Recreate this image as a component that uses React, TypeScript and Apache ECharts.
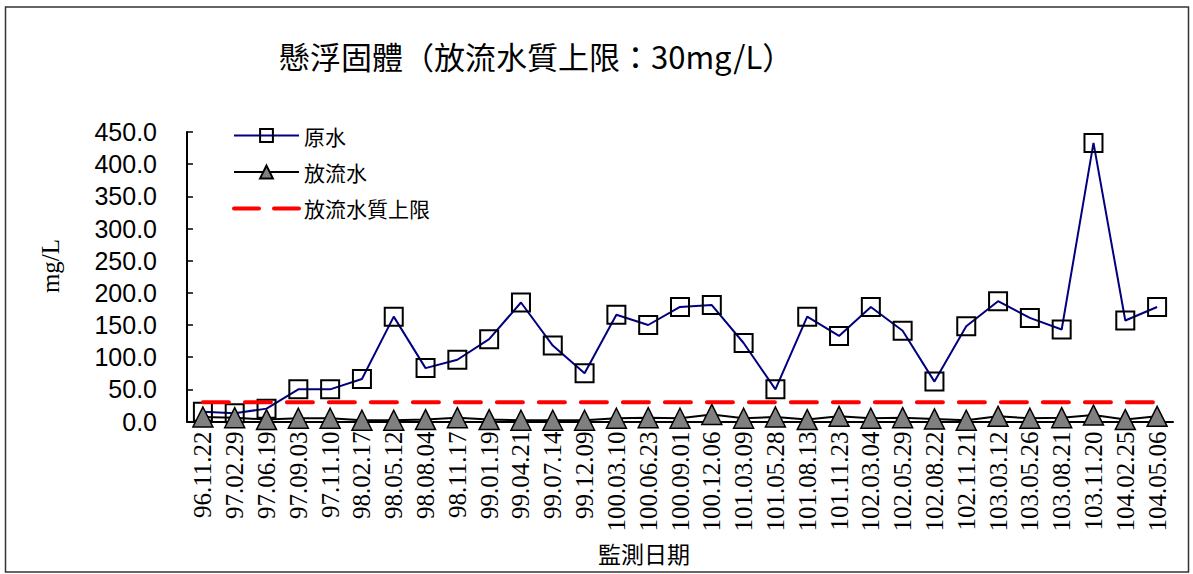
import React, { useEffect, useRef } from "react";
import * as echarts from "echarts";

const categories = [
  "96.11.22", "97.02.29", "97.06.19", "97.09.03", "97.11.10", "98.02.17", "98.05.12", "98.08.04",
  "98.11.17", "99.01.19", "99.04.21", "99.07.14", "99.12.09", "100.03.10", "100.06.23", "100.09.01",
  "100.12.06", "101.03.09", "101.05.28", "101.08.13", "101.11.23", "102.03.04", "102.05.29", "102.08.22",
  "102.11.21", "103.03.12", "103.05.26", "103.08.21", "103.11.20", "104.02.25", "104.05.06",
];

const rawWater = [
  15, 13, 20, 50, 50, 66, 163, 83, 96, 128, 185, 118, 75, 166, 150, 178,
  181, 122, 50, 163, 133, 178, 141, 62, 148, 187, 161, 143, 433, 157, 178,
];

const effluent = [
  7, 6, 3, 5, 5, 2, 2, 3, 6, 3, 2, 2, 2, 5, 6, 5,
  11, 5, 7, 3, 8, 5, 6, 4, 2, 8, 5, 6, 10, 3, 8,
];

const limitLine = [
  30, 30, 30, 30, 30, 30, 30, 30, 30, 30, 30, 30, 30, 30, 30, 30,
  30, 30, 30, 30, 30, 30, 30, 30, 30, 30, 30, 30, 30, 30, 30,
];

const seriesNames = ["原水", "放流水", "放流水質上限"];
const titleText = "懸浮固體（放流水質上限：30mg/L）";
const yAxisTitle = "mg/L";
const xAxisTitle = "監測日期";

const CJK = '"Noto Sans CJK TC", "Noto Sans CJK SC", sans-serif';

export default function App() {
  const ref = useRef<HTMLDivElement>(null);

  useEffect(() => {
    if (!ref.current) return;
    const chart = echarts.init(ref.current, undefined, { renderer: "svg" });
    chart.setOption({
      animation: false,
      backgroundColor: "#ffffff",
      title: {
        text: titleText,
        left: 279,
        top: 40,
        padding: 0,
        textStyle: { fontFamily: CJK, fontSize: 31, fontWeight: "normal", color: "#000" },
      },
      legend: {
        orient: "vertical",
        left: 232,
        top: 125,
        padding: 0,
        itemWidth: 65,
        itemHeight: 16,
        itemGap: 15.5,
        textStyle: { fontFamily: CJK, fontSize: 21, color: "#000" },
        data: [
          { name: seriesNames[0] },
          { name: seriesNames[1] },
          {
            name: seriesNames[2],
            itemStyle: { color: "rgba(0,0,0,0)", borderWidth: 0, opacity: 0 },
            lineStyle: { type: [25, 15], width: 4, color: "#ff0000" },
          },
        ],
      },
      grid: { left: 187, right: 20, top: 132, bottom: 152.5, containLabel: false },
      xAxis: {
        type: "category",
        data: categories,
        boundaryGap: true,
        axisLine: { lineStyle: { color: "#000", width: 2 } },
        axisTick: { inside: true, length: 6, lineStyle: { color: "#000", width: 1 } },
        axisLabel: {
          rotate: 90,
          interval: 0,
          margin: 10,
          fontFamily: '"Liberation Serif", serif',
          fontSize: 25,
          color: "#000",
        },
        splitLine: { show: false },
      },
      yAxis: {
        type: "value",
        min: 0,
        max: 450,
        interval: 50,
        axisLine: { show: true, lineStyle: { color: "#000", width: 2 } },
        axisTick: { show: true, inside: true, length: 6, lineStyle: { color: "#000", width: 1.5 } },
        axisLabel: {
          formatter: (v: number) => v.toFixed(1),
          margin: 30,
          fontFamily: '"Liberation Sans", Arial, sans-serif',
          fontSize: 25,
          color: "#000",
        },
        splitLine: { show: false },
      },
      series: [
        {
          name: seriesNames[0],
          type: "line",
          data: rawWater,
          symbol: "rect",
          symbolSize: 18,
          lineStyle: { color: "#000080", width: 2 },
          itemStyle: { color: "rgba(255,255,255,0)", borderColor: "#000", borderWidth: 2 },
          z: 2,
        },
        {
          name: seriesNames[1],
          type: "line",
          data: effluent,
          symbol: "triangle",
          symbolSize: 20,
          lineStyle: { color: "#000", width: 2 },
          itemStyle: { color: "#808080", borderColor: "#000", borderWidth: 1.5 },
          z: 3,
        },
        {
          name: seriesNames[2],
          type: "line",
          data: limitLine,
          symbol: "none",
          lineStyle: { color: "#ff0000", width: 4, type: [26, 16], cap: "round" },
          itemStyle: { color: "#ff0000" },
          z: 4,
        },
      ],
      graphic: [
        {
          type: "rect",
          shape: { x: 5.5, y: 7, width: 1183, height: 565 },
          style: { fill: "none", stroke: "#333", lineWidth: 1.5 },
          silent: true,
        },
        {
          type: "text",
          x: 50,
          y: 266,
          rotation: Math.PI / 2,
          style: {
            text: yAxisTitle,
            fontSize: 25,
            fontFamily: "Liberation Serif",
            fill: "#000",
            align: "center",
            verticalAlign: "middle",
          },
        },
        {
          type: "text",
          x: 644,
          y: 553,
          style: {
            text: xAxisTitle,
            fontSize: 23,
            fontFamily: "Noto Sans CJK TC",
            fill: "#000",
            align: "center",
            verticalAlign: "middle",
          },
        },
      ],
    });
    return () => chart.dispose();
  }, []);

  return (
    <div
      ref={ref}
      style={{ position: "absolute", left: 0, top: 0, width: 1193, height: 574 }}
    />
  );
}
